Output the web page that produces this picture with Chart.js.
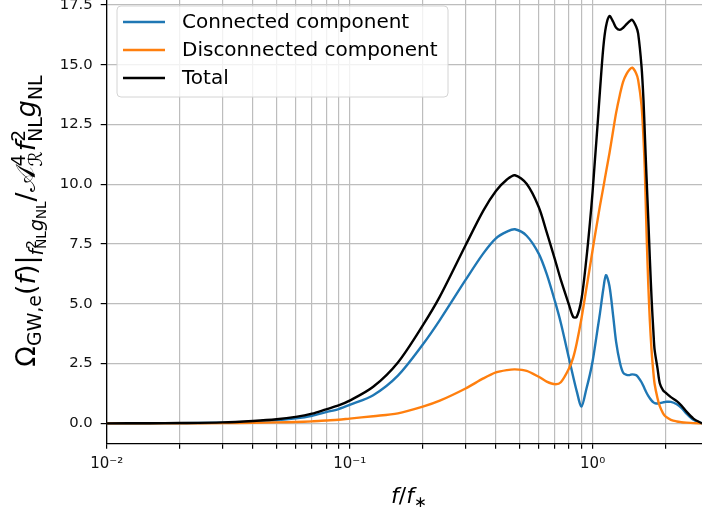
<!DOCTYPE html>
<html><head><meta charset="utf-8">
<script src="https://cdn.jsdelivr.net/npm/chart.js@4"></script>
<style>html,body{margin:0;padding:0;background:#fff;overflow:hidden}#wrap{width:702px;height:514px;position:relative}canvas{display:block}</style>
</head><body><div id="wrap"><canvas id="c" width="702" height="514"></canvas></div>
<script>
// ---- data ----
const freq = [0.010,0.015,0.020,0.030,0.040,0.050,0.060,0.070,0.080,0.090,
  0.100,0.125,0.158,0.200,0.235,0.300,0.355,0.400,0.444,0.479,
  0.535,0.600,0.647,0.700,0.740,0.800,0.832,0.860,0.900,0.943,
  0.975,1.000,1.022,1.050,1.072,1.106,1.135,1.173,1.215,1.250,
  1.295,1.336,1.380,1.420,1.455,1.510,1.540,1.590,1.620,1.640,
  1.667,1.695,1.720,1.750,1.780,1.800,1.850,1.890,1.950,2.000,
  2.100,2.220,2.320,2.430,2.600,2.820];
const connected = [0.000,0.005,0.010,0.030,0.075,0.130,0.210,0.320,0.470,0.600,
  0.770,1.180,2.000,3.300,4.320,6.000,7.110,7.740,8.020,8.120,
  7.850,7.100,6.250,5.100,4.200,2.700,1.950,1.350,0.700,1.450,
  2.050,2.600,3.200,4.000,4.600,5.600,6.200,5.750,4.500,3.400,
  2.550,2.120,2.030,2.020,2.050,2.020,1.930,1.720,1.550,1.430,
  1.280,1.150,1.050,0.950,0.880,0.850,0.830,0.850,0.880,0.900,
  0.900,0.800,0.650,0.420,0.150,0.000];
const disconnected = [0.000,0.002,0.004,0.010,0.025,0.040,0.060,0.085,0.120,0.150,
  0.200,0.300,0.420,0.700,0.950,1.460,1.880,2.130,2.230,2.260,
  2.200,1.950,1.750,1.640,1.720,2.300,2.750,3.350,4.400,5.650,
  6.550,7.250,7.850,8.550,9.100,9.850,10.500,11.300,12.250,13.000,
  13.750,14.300,14.620,14.800,14.880,14.650,14.360,13.300,11.900,10.600,
  8.000,5.800,4.300,3.000,2.100,1.650,1.050,0.720,0.420,0.280,
  0.150,0.080,0.050,0.030,0.010,0.000];
const total = [0.000,0.007,0.014,0.040,0.100,0.170,0.270,0.405,0.590,0.750,
  0.950,1.530,2.550,4.100,5.300,7.450,8.900,9.720,10.200,10.380,
  10.020,9.050,8.000,6.850,6.000,4.950,4.450,4.450,5.200,6.900,
  8.400,9.700,11.000,12.600,13.900,15.700,16.600,17.040,16.800,16.550,
  16.460,16.550,16.700,16.820,16.880,16.600,16.300,14.920,13.500,12.130,
  10.300,8.550,6.900,5.160,3.800,3.070,2.300,1.680,1.380,1.280,
  1.100,0.930,0.750,0.500,0.200,0.000];
const seriesNames = ['Connected component','Disconnected component','Total'];
const seriesColors = ['#1f77b4','#ff7f0e','#000000'];
const yTickValues = [0,2.5,5,7.5,10,12.5,15,17.5];
const xDecadeLabels = {'-2':'10⁻²','-1':'10⁻¹','0':'10⁰'};
const xRange = [0.01, 2.82];
const yRange = [-0.85, 17.71];

const FONT = '"DejaVu Sans", sans-serif';
function fnt(sz, it){ return (it?'italic ':'') + sz.toFixed(2) + 'px ' + FONT; }

function layoutRich(ctx, segs, S){
  let x = 0; const out = []; let i = 0;
  while (i < segs.length){
    const group = [segs[i]];
    while (segs[i].st && i+1 < segs.length){ i++; group.push(segs[i]); }
    i++;
    let w = 0;
    group.forEach(g => {
      const sz = S*(g.s||1);
      ctx.font = fnt(sz, g.it);
      const m = ctx.measureText(g.t).width;
      out.push({t:g.t, it:g.it, sz:sz, dy:(g.dy||0)*S, x:x});
      w = Math.max(w, m);
    });
    x += w;
  }
  return {items:out, width:x};
}
function drawRich(ctx, segs, S, cx, cy, rot){
  ctx.save();
  ctx.translate(cx, cy);
  if (rot) ctx.rotate(-Math.PI/2);
  const L = layoutRich(ctx, segs, S);
  ctx.fillStyle = '#000';
  ctx.textBaseline = 'alphabetic';
  ctx.textAlign = 'left';
  const x0 = -L.width/2;
  L.items.forEach(it => { ctx.font = fnt(it.sz, it.it); ctx.fillText(it.t, x0+it.x, it.dy); });
  ctx.restore();
}

const yTitle = [
  {t:'Ω'},{t:'GW,e', s:0.7, dy:0.22},
  {t:'('},{t:'f', it:1},{t:')'},{t:'|'},
  {t:'f', s:0.7, it:1, dy:0.3},{t:'2', s:0.5, dy:0.02, st:1},{t:'NL', s:0.5, dy:0.42},
  {t:'g', s:0.7, it:1, dy:0.3},{t:'NL', s:0.5, dy:0.42},
  {t:'/'},{t:'𝒜'},{t:'4', s:0.7, dy:-0.38, st:1},{t:'ℛ', s:0.7, dy:0.25},
  {t:'f', it:1},{t:'2', s:0.7, dy:-0.38, st:1},{t:'NL', s:0.7, dy:0.25},
  {t:'g', it:1},{t:'NL', s:0.7, dy:0.25}
];
const xTitle = [{t:'f', it:1},{t:'/'},{t:'f', it:1},{t:'∗', s:0.7, dy:0.2}];

const decorPlugin = {
  id:'decor',
  afterDraw(chart){
    const ctx = chart.ctx;
    ctx.save();
    const bx=117, by=6, bw=331, bh=91, r=4;
    ctx.beginPath();
    ctx.moveTo(bx+r,by); ctx.lineTo(bx+bw-r,by); ctx.arcTo(bx+bw,by,bx+bw,by+r,r);
    ctx.lineTo(bx+bw,by+bh-r); ctx.arcTo(bx+bw,by+bh,bx+bw-r,by+bh,r);
    ctx.lineTo(bx+r,by+bh); ctx.arcTo(bx,by+bh,bx,by+bh-r,r);
    ctx.lineTo(bx,by+r); ctx.arcTo(bx,by,bx+r,by,r); ctx.closePath();
    ctx.fillStyle='rgba(255,255,255,0.8)'; ctx.fill();
    ctx.strokeStyle='#d4d4d4'; ctx.lineWidth=1; ctx.stroke();
    const rows=[22,50,78];
    seriesNames.forEach((n,i)=>{
      ctx.beginPath(); ctx.moveTo(123,rows[i]); ctx.lineTo(165,rows[i]);
      ctx.strokeStyle=seriesColors[i]; ctx.lineWidth=2.4; ctx.stroke();
      ctx.fillStyle='#000'; ctx.font=fnt(20); ctx.textBaseline='middle'; ctx.textAlign='left';
      ctx.fillText(n,182,rows[i]+1);
    });
    ctx.restore();
    drawRich(ctx, yTitle, 27, 35, 221, true);
    drawRich(ctx, xTitle, 22, 409, 503, false);
  }
};

const ds = [connected, disconnected, total].map((arr,i)=>({
  label: seriesNames[i],
  data: freq.map((f,k)=>({x:f, y:arr[k]})),
  borderColor: seriesColors[i],
  borderWidth: 2.4,
  pointRadius: 0,
  fill: false,
  tension: 0.3,
  order: 2-i
}));

new Chart(document.getElementById('c'), {
  type:'line',
  data:{datasets:ds},
  plugins:[decorPlugin],
  options:{
    responsive:false, animation:false, devicePixelRatio:1,
    layout:{padding:0},
    plugins:{legend:{display:false}, tooltip:{enabled:false}},
    scales:{
      x:{
        type:'logarithmic', min:xRange[0], max:xRange[1],
        afterBuildTicks(s){
          const t=[];
          for(let e=-2;e<=0;e++) for(let m=1;m<=9;m++){ const v=m*Math.pow(10,e); if(v<=xRange[1]+1e-9) t.push({value:v, major:m===1}); }
          s.ticks=t;
        },
        afterFit(s){ s.height=70.3; s.paddingLeft=0; s.paddingRight=0; s.paddingTop=0; s.paddingBottom=0; },
        ticks:{
          autoSkip:false, maxRotation:0, minRotation:0, padding:6, color:'#111',
          font:{family:FONT, size:15},
          callback(v){ const e=Math.log10(v); const r=Math.round(e); return Math.abs(e-r)<1e-9 ? (xDecadeLabels[String(r)]||'') : ''; }
        },
        grid:{color:'#bdbdbd', lineWidth:1.2, tickColor:'#000', tickLength:5, drawTicks:true},
        border:{display:true, color:'#000', width:1.3}
      },
      y:{
        type:'linear', min:yRange[0], max:yRange[1],
        afterBuildTicks(s){ s.ticks = yTickValues.map(v=>({value:v})); },
        afterFit(s){ s.width=106.7; s.paddingLeft=0; s.paddingRight=0; s.paddingTop=0; s.paddingBottom=0; },
        ticks:{ padding:8, color:'#111', font:{family:FONT, size:14.8}, callback(v){ return Number(v).toFixed(1); } },
        grid:{color:'#bdbdbd', lineWidth:1.2, tickColor:'#000', tickLength:6, drawTicks:true},
        border:{display:true, color:'#000', width:1.3}
      }
    }
  }
});
</script></body></html>
